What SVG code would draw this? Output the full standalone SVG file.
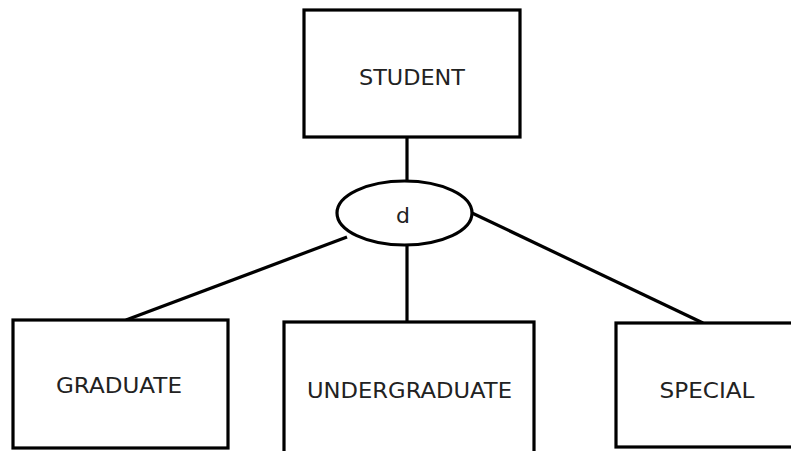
<svg xmlns="http://www.w3.org/2000/svg" width="791" height="451" viewBox="0 0 791 451">
<style>
.box{fill:#fff;stroke:#000;stroke-width:3.2}
.lbl{font-family:"DejaVu Sans","Liberation Sans",sans-serif;font-size:22px;fill:#222;text-anchor:middle}
.con{stroke:#000;stroke-width:3.2;fill:none}
</style>
<rect width="791" height="451" fill="#fff"/>
<g id="connectors">
<line class="con" x1="407" y1="137" x2="407" y2="181"/>
<line class="con" x1="347" y1="237" x2="126" y2="320"/>
<line class="con" x1="407" y1="245" x2="407" y2="322"/>
<line class="con" x1="472" y1="213" x2="703" y2="323"/>
</g>
<g id="student">
<rect class="box" x="304" y="10" width="216" height="127"/>
<text class="lbl" x="412" y="85" textLength="106" lengthAdjust="spacingAndGlyphs">STUDENT</text>
</g>
<g id="d">
<ellipse class="box" cx="404.5" cy="213" rx="67.5" ry="32"/>
<text class="lbl" x="403" y="223">d</text>
</g>
<g id="graduate">
<rect class="box" x="13" y="320" width="215" height="128"/>
<text class="lbl" x="119" y="393" textLength="126" lengthAdjust="spacingAndGlyphs">GRADUATE</text>
</g>
<g id="undergraduate">
<rect class="box" x="284" y="322" width="250" height="140"/>
<text class="lbl" x="409.5" y="398" textLength="205" lengthAdjust="spacingAndGlyphs">UNDERGRADUATE</text>
</g>
<g id="special">
<rect class="box" x="616" y="323" width="190" height="124"/>
<text class="lbl" x="707" y="398" textLength="95" lengthAdjust="spacingAndGlyphs">SPECIAL</text>
</g>
</svg>
